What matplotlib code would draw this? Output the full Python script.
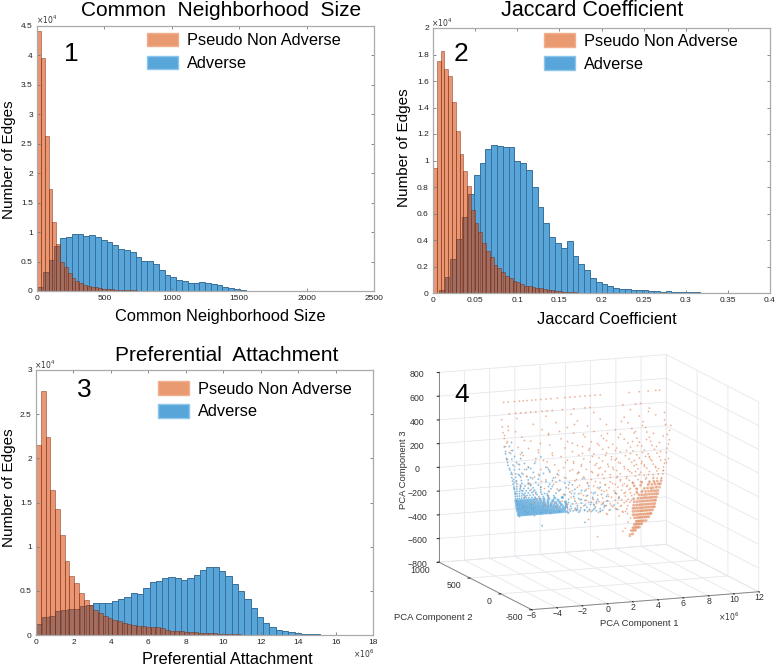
import matplotlib
matplotlib.use('Agg')
import matplotlib.pyplot as plt
from matplotlib.patches import Patch

plt.rcParams['font.family'] = ['Liberation Sans', 'DejaVu Sans']

# histogram counts, in units of 10^4 edges
cn_pseudo = [4.42, 3.95, 2.63, 1.73, 1.17, 0.80, 0.50, 0.40, 0.30, 0.22, 0.17, 0.13, 0.11, 0.09, 0.07, 0.06, 0.05,
             0.04, 0.035, 0.03, 0.025, 0.02, 0.018, 0.015, 0.012, 0.01, 0.008, 0.006, 0.005, 0.004]
cn_adverse = [0.07, 0.33, 0.53, 0.77, 0.90, 0.91, 0.96, 0.97, 0.94, 0.95, 0.91, 0.87, 0.84, 0.78, 0.72, 0.70, 0.67,
              0.58, 0.51, 0.51, 0.46, 0.36, 0.27, 0.23, 0.18, 0.17, 0.13, 0.14, 0.16, 0.14, 0.12, 0.11, 0.07, 0.05,
              0.03, 0.012, 0.008, 0.006, 0.005, 0.004, 0.003, 0.003, 0.002, 0.002, 0.002, 0.002, 0.002, 0.001, 0.0,
              0.006]
cn_pseudo_width = 28.5
cn_adverse_width = 43.0

jc_pseudo = [0.94, 1.75, 1.83, 1.69, 1.64, 1.44, 1.22, 1.05, 0.92, 0.81, 0.63, 0.53, 0.46, 0.38, 0.32, 0.27, 0.21,
             0.19, 0.16, 0.13, 0.11, 0.09, 0.08, 0.07, 0.055, 0.05, 0.045, 0.04, 0.035, 0.03, 0.025, 0.02, 0.015,
             0.012, 0.01, 0.008, 0.006, 0.004]
jc_adverse = [0.0, 0.02, 0.12, 0.26, 0.41, 0.57, 0.75, 0.89, 0.98, 1.09, 1.12, 1.11, 1.10, 1.10, 1.00, 0.98, 0.93,
              0.80, 0.65, 0.53, 0.42, 0.38, 0.34, 0.39, 0.28, 0.22, 0.17, 0.11, 0.08, 0.07, 0.05, 0.04, 0.03, 0.03,
              0.025, 0.02, 0.02, 0.015, 0.012, 0.01, 0.012, 0.008, 0.008, 0.005, 0.004, 0.004, 0.003, 0.002, 0.002,
              0.001, 0.001]
jc_pseudo_width = 0.0045
jc_adverse_width = 0.0069

pa_pseudo = [2.15, 2.76, 2.24, 1.64, 1.43, 1.13, 0.84, 0.67, 0.59, 0.47, 0.40, 0.34, 0.28, 0.25, 0.22, 0.19, 0.17,
             0.16, 0.14, 0.13, 0.11, 0.105, 0.10, 0.095, 0.09, 0.09, 0.08, 0.06, 0.05, 0.045, 0.04, 0.035, 0.03,
             0.03, 0.025, 0.025, 0.02, 0.02, 0.015, 0.012, 0.01, 0.008, 0.006, 0.004]
pa_adverse = [0.13, 0.20, 0.22, 0.27, 0.28, 0.29, 0.29, 0.33, 0.34, 0.36, 0.36, 0.36, 0.38, 0.41, 0.43, 0.48, 0.46,
              0.53, 0.60, 0.61, 0.65, 0.66, 0.64, 0.62, 0.64, 0.68, 0.74, 0.77, 0.775, 0.72, 0.67, 0.58, 0.50, 0.41,
              0.31, 0.20, 0.14, 0.09, 0.06, 0.04, 0.03, 0.02, 0.012, 0.01, 0.006, 0.005, 0.004, 0.003, 0.002, 0.002,
              0.001, 0.001]
pa_pseudo_width = 0.255
pa_adverse_width = 0.337

cn_xticks = [0, 500, 1000, 1500, 2000, 2500]
cn_yticks = [0, 0.5, 1, 1.5, 2, 2.5, 3, 3.5, 4, 4.5]
jc_xticks = [0, 0.05, 0.1, 0.15, 0.2, 0.25, 0.3, 0.35, 0.4]
jc_yticks = [0, 0.2, 0.4, 0.6, 0.8, 1, 1.2, 1.4, 1.6, 1.8, 2]
pa_xticks = [0, 2, 4, 6, 8, 10, 12, 14, 16, 18]
pa_yticks = [0, 0.5, 1, 1.5, 2, 2.5, 3]

# PCA scatter (component 3, component 1 values in 10^6)
pca2_level = 250
adverse_rows = [
    (-330, [-1.5, 1.9]),
    (-240, [0.6, 1.4, 2.1, 2.8, 3.3, 3.9, 4.4]),
    (-225, [-3.38, -3.22, -3.07, -2.92, -2.78, -2.63, -2.47, -2.33, -2.18, -2.02, -1.88, -1.71, -1.57, -1.42, -1.26,
            -1.12, -0.96, -0.81, -0.66, -0.51, -0.37, -0.21, -0.06, 0.11, 0.32, 0.51, 0.73, 0.97, 1.22, 1.53, 1.87,
            2.24, 2.6, 3.1]),
    (-205, [-3.4, -3.26, -3.1, -2.96, -2.81, -2.66, -2.52, -2.37, -2.21, -2.07, -1.92, -1.76, -1.6, -1.45, -1.3, -1.14,
            -0.98, -0.83, -0.67, -0.49, -0.31, -0.13, 0.06, 0.27, 0.52, 0.81, 1.13, 1.58, 2.05, 2.7, 3.5, 4.2]),
    (-185, [-3.46, -3.3, -3.16, -3.01, -2.86, -2.72, -2.56, -2.41, -2.27, -2.12, -1.95, -1.8, -1.64, -1.47, -1.31,
            -1.13, -0.96, -0.75, -0.57, -0.36, -0.12, 0.17, 0.42, 0.76, 1.3, 1.9, 2.6, 3.3]),
    (-165, [-3.5, -3.35, -3.2, -3.05, -2.9, -2.75, -2.6, -2.44, -2.29, -2.13, -1.96, -1.79, -1.61, -1.41, -1.22, -1.03,
            -0.82, -0.58, -0.31, 0.02, 0.4, 0.9, 1.6, 2.4, 3.7]),
    (-145, [-3.52, -3.38, -3.23, -3.08, -2.92, -2.77, -2.6, -2.45, -2.28, -2.1, -1.91, -1.73, -1.52, -1.3, -1.04,
            -0.77, -0.42, -0.1, 0.35, 1.1, 1.9, 2.9, 4.6]),
    (-125, [-3.54, -3.4, -3.26, -3.1, -2.94, -2.77, -2.6, -2.42, -2.24, -2.05, -1.83, -1.6, -1.35, -1.04, -0.66, -0.24,
            0.6, 1.4, 2.5, 3.6]),
    (-105, [-3.58, -3.44, -3.27, -3.12, -2.95, -2.76, -2.58, -2.38, -2.16, -1.93, -1.66, -1.36, -0.98, -0.5, 0.1, 1.0,
            2.1, 3.2, 4.3]),
    (-85, [-3.6, -3.45, -3.3, -3.13, -2.95, -2.75, -2.55, -2.31, -2.06, -1.76, -1.41, -1.02, -0.58, 0.3, 1.4, 2.7]),
    (-65, [-3.62, -3.47, -3.3, -3.11, -2.9, -2.7, -2.47, -2.21, -1.9, -1.52, -1.1, -0.4, 0.7, 1.9]),
    (-45, [-3.65, -3.5, -3.3, -3.1, -2.86, -2.6, -2.31, -2.0, -1.6, -1.0, -0.2, 1.1, 3.1]),
    (-25, [-3.67, -3.5, -3.28, -3.04, -2.76, -2.46, -2.1, -1.6, -0.8, 0.4, 2.2]),
    (-5, [-3.72, -3.5, -3.25, -2.95, -2.6, -2.2, -1.6, -0.7, 0.9]),
    (15, [-3.74, -3.5, -3.2, -2.85, -2.4, -1.8, -0.9, 0.3]),
    (40, [-3.8, -3.5, -3.1, -2.6, -2.0, -1.2, -0.1, 1.7]),
    (65, [-3.85, -3.55, -3.15, -2.6, -1.8, -0.6]),
    (95, [-3.9, -3.6, -3.2, -2.7, -1.7, -0.3, 1.4]),
    (125, [-3.95, -3.6, -3.1, -2.2, -0.9]),
    (160, [-4.05, -3.7, -3.3, -2.4, -1.2]),
    (200, [-4.2, -3.8, -3.3, -2.1]),
    (250, [-4.3, -3.9, -3.2, -1.6]),
    (300, [-4.4, -4.0, -3.1]),
    (360, [-4.5, -4.1]),
]
pseudo_rows = [
    (-475, [5.4, 5.5]),
    (-460, [2.9, 5.43, 5.55, 5.68]),
    (-430, [4.9, 5.5, 5.62, 5.77, 5.9]),
    (-407, [5.1, 5.7, 5.83, 5.96, 6.08, 6.2]),
    (-380, [5.8, 5.92, 6.03, 6.15, 6.28, 6.4]),
    (-355, [5.3, 5.95, 6.06, 6.18, 6.3, 6.42, 6.55, 6.74]),
    (-325, [5.5, 5.82, 6.0, 6.14, 6.28, 6.41, 6.55, 6.68, 6.82, 6.95]),
    (-299, [4.6, 5.7, 5.86, 6.03, 6.18, 6.33, 6.48, 6.62, 6.77, 6.91, 7.05, 7.13]),
    (-270, [3.6, 4.9, 5.7, 5.9, 6.08, 6.23, 6.37, 6.5, 6.66, 6.8, 6.96, 7.1, 7.25]),
    (-244, [2.4, 3.1, 3.8, 4.5, 5.2, 5.7, 5.85, 6.02, 6.2, 6.36, 6.51, 6.68, 6.83, 6.98, 7.14, 7.3, 7.4]),
    (-218, [1.1, 2.7, 3.4, 4.1, 4.7, 5.3, 5.75, 5.96, 6.14, 6.31, 6.47, 6.64, 6.8, 6.95, 7.11, 7.28, 7.43]),
    (-190, [0.5, 1.8, 2.6, 3.2, 3.9, 4.5, 5.0, 5.45, 5.8, 6.02, 6.22, 6.41, 6.58, 6.75, 6.91, 7.08, 7.24, 7.4, 7.5]),
    (-163, [-0.8, 1.2, 2.2, 3.0, 3.6, 4.3, 4.8, 5.3, 5.75, 6.1, 6.32, 6.5, 6.7, 6.87, 7.05, 7.21, 7.38, 7.55]),
    (-136, [-1.4, 0.1, 1.5, 2.5, 3.3, 4.0, 4.6, 5.1, 5.6, 6.2, 6.42, 6.62, 6.8, 7.0, 7.18, 7.35, 7.52, 7.66]),
    (-110, [0.8, 2.0, 2.9, 3.7, 4.4, 5.0, 5.5, 6.0, 6.4, 6.7, 6.93, 7.14, 7.33, 7.5, 7.68]),
    (-83, [-1.0, 0.3, 1.6, 2.4, 3.4, 4.2, 4.8, 5.4, 6.0, 6.6, 6.85, 7.1, 7.3, 7.55, 7.8]),
    (-55, [-2.0, 0.9, 2.0, 3.0, 3.8, 4.5, 5.2, 5.8, 6.3, 6.9, 7.2, 7.45, 7.7, 7.87]),
    (-30, [-0.3, 1.3, 2.6, 3.5, 4.3, 5.0, 5.7, 6.4, 7.0, 7.35, 7.62, 7.93]),
    (-5, [-1.6, 0.6, 2.1, 3.1, 3.9, 4.7, 5.4, 6.1, 6.7, 7.28, 7.6, 7.95]),
    (27, [-2.6, -0.4, 1.1, 2.4, 3.4, 4.4, 5.2, 5.9, 6.6, 7.3, 7.7, 8.06]),
    (55, [-1.2, 0.4, 1.8, 2.9, 3.9, 4.7, 5.6, 6.3, 7.0, 7.6, 8.1]),
    (85, [-2.1, -0.2, 1.3, 2.5, 3.5, 4.4, 5.3, 6.1, 6.8, 7.5, 8.12]),
    (115, [-3.0, -0.9, 0.7, 2.0, 3.0, 4.1, 5.0, 5.8, 6.6, 7.3, 8.2]),
    (145, [-1.6, 0.2, 1.6, 2.7, 3.7, 4.7, 5.6, 6.4, 7.2, 7.9, 8.25]),
    (175, [-2.6, -0.5, 1.0, 2.3, 3.3, 4.3, 5.4, 6.2, 7.0, 7.8]),
    (205, [-3.4, -1.1, 0.5, 1.8, 3.0, 4.0, 5.1, 6.0, 6.9, 7.6, 8.35]),
    (240, [-2.0, 0.0, 1.4, 2.6, 3.6, 4.7, 5.7, 6.6, 7.4, 8.4]),
    (275, [-3.0, -0.7, 0.9, 2.2, 3.3, 4.4, 5.5, 6.4, 7.2, 8.5]),
    (310, [-4.1, -1.8, 0.3, 1.7, 3.0, 4.1, 5.3, 6.2, 7.1, 8.58]),
    (345, [-3.4, -0.9, 0.9, 2.4, 3.6, 5.0, 6.0, 7.0, 8.1]),
    (390, [-4.3, -2.4, 0.0, 1.9, 3.2, 4.7, 5.8, 6.8, 8.6]),
    (430, [-4.5, -3.1, -1.0, 1.0, 2.6, 4.3, 5.6, 6.7, 8.7]),
    (480, [-4.6, -3.6, -1.5, 0.5, 2.1, 3.6, 5.3, 6.5, 8.2]),
    (530, [-4.65, -4.2, -2.2, -0.4, 1.3, 3.1, 5.0, 6.2, 7.5]),
    (590, [-4.7, -3.5, -1.2, 0.8, 2.6, 5.5, 7.0]),
    (635, [-4.1, -3.6, -3.2, -2.8, -2.4, -2.0, -1.5, -1.1, -0.7, 0.1, 1.0, 1.9, 2.3, 4.9, 5.9, 6.3]),
    (735, [-4.55, -4.2, -3.7, -3.3, -3.0, -2.7, -2.3, -2.0, -1.6, -1.2, -0.8, -0.3, 0.3, 0.7, 1.1, 1.5, 1.9, 2.3, 2.7,
           3.1, 5.4, 6.2, 6.9, 7.5, 7.8]),
]
# scattered points between the rows
adverse_pca1 = [-3.3, -2.7, -2.15, -1.55, -0.9, -0.2, 0.45, 1.15, 1.8, 2.45, 3.05, -3.45, -2.85, -2.2, -1.3, -0.5,
                0.35, 1.25, 2.3, 3.4, -3.5, -3.0, -2.35, -1.45, -0.6, 0.55, 1.6, 2.75, -3.6, -2.95, -2.05, -1.15,
                0.05, 1.05, 2.5, -3.65, -3.05, -2.25, -1.35, -0.05, 1.55, -3.7, -3.15, -2.45, -1.05, 0.65, -3.75,
                -3.25, -2.3, -0.75, -3.8, -3.35, -2.5, -1.4, -3.95, -3.45, -2.65, -1.0, -4.1, -3.55, -2.8, -4.25,
                -3.75, -2.9, -4.35, -3.85, -4.45, -3.95]
adverse_pca3 = [-232, -216, -238, -213, -229, -218, -233, -214, -226, -231, -243, -172, -193, -176, -198, -174, -191,
                -213, -179, -197, -133, -152, -138, -156, -131, -149, -133, -158, -92, -74, -96, -71, -97, -73, -91,
                -33, -53, -35, -57, -34, -52, 8, -13, 27, 5, 22, 54, 32, 79, 48, 83, 110, 88, 112, 141, 118, 178,
                146, 182, 224, 163, 229, 276, 207, 262, 332, 321, 392]
pseudo_pca1 = [2.15, 3.65, 4.85, 5.25, 1.45, 2.95, 4.25, 5.05, 0.65, 2.25, 3.55, 4.75, 5.55, -0.35, 1.25, 2.75, 3.95,
               5.15, -1.25, 0.45, 1.95, 3.35, 4.55, 5.75, 6.55, -2.15, -0.55, 1.05, 2.55, 3.75, 5.05, 6.05, 7.15,
               -1.75, 0.15, 1.75, 3.15, 4.25, 5.45, 6.45, 7.55, -2.85, -0.95, 0.75, 2.15, 3.55, 4.85, 5.95, 6.95,
               7.75, -2.35, -0.15, 1.45, 2.85, 4.05, 5.25, 6.25, 7.35, -3.25, -1.35, 0.55, 2.05, 3.45, 4.65, 5.65,
               6.75, 7.95, -2.55, -0.65, 1.15, 2.65, 3.85, 5.15, 6.15, 7.25, -3.55, -1.55, 0.25, 1.85, 3.25, 4.45,
               5.85, 6.85, 8.05, -2.75, -0.45, 1.35, 2.95, 4.15, 5.35, 6.55, 7.65, -3.85, -1.85, 0.85, 2.35, 3.75,
               4.95, 6.35, 7.45, 8.3, -2.95, -0.25, 1.55, 3.05, 4.55, 5.95, 7.05, -3.75, -1.15, 0.95, 2.75, 4.35,
               5.75, 6.95, 8.45, -2.05, 0.35, 2.45, 3.95, 5.45, 6.65, 7.85, -4.25, -1.45, 1.65, 3.45, 5.15, 6.45,
               -3.25, -0.75, 2.25, 4.25, 6.05, 7.55, -3.95, -1.85, 1.25, 3.75, 5.65, 7.75, -4.45, -2.65, 0.45, 2.85,
               4.55, 6.75, 8.4, -4.3, -1.65, 1.75, 3.35, 5.85, 7.25, -4.5, -2.95, -0.15, 3.65, 6.45, 8.25,
               -4.2, -1.0, 1.05, 4.75, 6.85, 8.15]
pseudo_pca3 = [-303, -276, -258, -282, -232, -251, -229, -257, -204, -226, -198, -207, -176, -178, -199, -172, -197,
               -174, -149, -166, -143, -171, -148, -126, -149, -123, -146, -119, -141, -127, -97, -118, -96, -91, -73,
               -99, -71, -96, -68, -93, -71, -66, -41, -69, -44, -68, -42, -71, -38, -47, -16, -43, -13, -39, -17,
               -42, -14, -37, 12, -11, -27, 7, -19, 12, -23, 9, -9, 38, 16, 41, 11, 39, 13, 42, 8, 68, 44, 70, 41, 66,
               43, 69, 39, 62, 98, 72, 100, 68, 97, 71, 103, 76, 128, 106, 127, 98, 129, 101, 132, 99, 125, 158, 132,
               161, 129, 157, 131, 163, 188, 161, 192, 159, 188, 163, 186, 155, 221, 195, 224, 190, 226, 193, 219,
               257, 224, 258, 221, 254, 228, 293, 261, 294, 258, 290, 263, 326, 293, 328, 292, 324, 297, 366, 331,
               368, 329, 367, 333, 364, 411, 372, 412, 369, 409, 376, 458, 408, 460, 405, 456, 447, 503, 449, 507,
               502, 563, 547]
pca1_ticks = [-6, -4, -2, 0, 2, 4, 6, 8, 10, 12]
pca2_ticks = [-500, 0, 500, 1000]
pca3_ticks = [-800, -600, -400, -200, 0, 200, 400, 600, 800]

W, H = 778, 669
ORANGE = (0.86, 0.25, 0.0, 0.55)
ORANGE_EDGE = (0.45, 0.16, 0.06, 0.55)
BLUE = '#58a5d9'
BLUE_EDGE = '#3a7099'


def ax_at(left, top, right, bottom, **kw):
    return fig.add_axes([left / W, 1 - bottom / H, (right - left) / W, (bottom - top) / H], **kw)


def label(x, y, s, **kw):
    fig.text(x / W, 1 - y / H, s, ha='center', va='center', **kw)


def hist_panel(box, pseudo, adverse, pseudo_w, adverse_w, xticks, yticks, xlim, ylim, legend_xy):
    ax = ax_at(*box)
    ax.bar([i * adverse_w for i in range(len(adverse))], adverse, adverse_w, align='edge',
           color=BLUE, edgecolor=BLUE_EDGE, linewidth=0.7)
    ax.bar([i * pseudo_w for i in range(len(pseudo))], pseudo, pseudo_w, align='edge',
           color=ORANGE, edgecolor=ORANGE_EDGE, linewidth=0.6)
    ax.set_xlim(xlim)
    ax.set_ylim(ylim)
    ax.set_xticks(xticks, [f'{t:g}' for t in xticks])
    ax.set_yticks(yticks, [f'{t:g}' for t in yticks])
    ax.tick_params(direction='in', top=True, right=True, length=2.5, width=0.6, labelsize=6,
                   labelcolor='#222222', color='#777777', pad=3)
    for s in ax.spines.values():
        s.set_color('#aaaaaa')
        s.set_linewidth(0.9)
    handles = [Patch(facecolor='#e99a70', edgecolor='#f0b090', label='Pseudo Non Adverse'),
               Patch(facecolor=BLUE, edgecolor='#8cc6ea', label='Adverse')]
    ax.legend(handles=handles, loc='upper left', bbox_to_anchor=legend_xy, frameon=False, fontsize=11.8,
              handlelength=1.9, handleheight=0.9, handletextpad=0.55, labelspacing=0.45, borderaxespad=0, borderpad=0)
    return ax


fig = plt.figure(figsize=(W / 100, H / 100), dpi=100)

hist_panel((37, 26, 374, 291), cn_pseudo, cn_adverse, cn_pseudo_width, cn_adverse_width, cn_xticks, cn_yticks,
           (0, 2500), (0, 4.5), (0.326, 0.974))
hist_panel((433, 28, 770, 293), jc_pseudo, jc_adverse, jc_pseudo_width, jc_adverse_width, jc_xticks, jc_yticks,
           (0, 0.4), (0, 2), (0.329, 0.98))
hist_panel((36, 370, 373, 635), pa_pseudo, pa_adverse, pa_pseudo_width, pa_adverse_width, pa_xticks, pa_yticks,
           (0, 18), (0, 3), (0.362, 0.958))

label(221, 11, 'Common  Neighborhood  Size', fontsize=15)
label(592, 11, 'Jaccard Coefficient', fontsize=15.5)
label(227, 355, 'Preferential  Attachment', fontsize=15)
label(220, 316, 'Common Neighborhood Size', fontsize=11.8)
label(607, 319, 'Jaccard Coefficient', fontsize=11.8)
label(227, 659, 'Preferential Attachment', fontsize=11.8)
label(9, 160, 'Number of Edges', fontsize=11, rotation=90)
label(404, 148, 'Number of Edges', fontsize=11, rotation=90)
label(9, 488, 'Number of Edges', fontsize=11, rotation=90)
label(71, 54, '1', fontsize=19)
label(461, 54, '2', fontsize=19)
label(84, 390, '3', fontsize=19)
label(462, 395, '4', fontsize=19)
label(47, 20, r'$\times10^{4}$', fontsize=5.5, color='#333333')
label(442, 23, r'$\times10^{4}$', fontsize=5.5, color='#333333')
label(45, 365, r'$\times10^{4}$', fontsize=5.5, color='#333333')
label(364, 654, r'$\times10^{6}$', fontsize=5.5, color='#333333')

# 3d scatter panel
ax3 = ax_at(405, 341, 785, 631, projection='3d', proj_type='ortho')
ax3.view_init(elev=11.6, azim=-111.4)
ax3.set_box_aspect((238, 247, 189), zoom=1.344)
for z, xs in adverse_rows:
    # the wedge at the bottom left is solid blue in the picture
    ax3.scatter(xs, [pca2_level] * len(xs), [z] * len(xs),
                s=[5 if -300 < z < -100 and x < 0.5 else 1.8 for x in xs],
                c='#58a5d9', alpha=0.7, linewidths=0, depthshade=False)
ax3.scatter(adverse_pca1, [pca2_level] * len(adverse_pca1), adverse_pca3, s=1.8, c='#58a5d9', alpha=0.7,
            linewidths=0, depthshade=False)
for z, xs in pseudo_rows:
    ax3.scatter(xs, [pca2_level] * len(xs), [z] * len(xs), s=[4.2 if z < -20 and x > 5.6 else 1.6 for x in xs],
                c='#e28a5f', alpha=0.65, linewidths=0, depthshade=False)
ax3.scatter(pseudo_pca1, [pca2_level] * len(pseudo_pca1), pseudo_pca3, s=1.6, c='#e28a5f', alpha=0.65,
            linewidths=0, depthshade=False)
ax3.set_xlim(-6, 12)
ax3.set_ylim(-500, 1000)
ax3.set_zlim(-800, 800)
ax3.set_xticks(pca1_ticks)
ax3.set_yticks(pca2_ticks, ['' for t in pca2_ticks])
ax3.set_zticks(pca3_ticks)
ax3.tick_params(labelsize=6.3, colors='#333333')
ax3.tick_params(axis='x', pad=-7.5)
ax3.tick_params(axis='z', pad=-0.5)
# component 2 labels sit left of the edge, further than the axis pad puts them
for t in pca2_ticks:
    ax3.text(-6.7, t, -860, f'{t}', fontsize=6.3, color='#333333', ha='right', va='center')
for a in (ax3.xaxis, ax3.yaxis, ax3.zaxis):
    a.set_pane_color((1, 1, 1, 0))
    a.pane.set_edgecolor('#dddddd')
    a.line.set_color('#888888')
    a.line.set_linewidth(0.7)
    a._axinfo['grid']['color'] = '#e6e6ec'
    a._axinfo['grid']['linewidth'] = 0.6
    a._axinfo['tick']['inward_factor'] = 0.1
    a._axinfo['tick']['outward_factor'] = 0.0
label(639, 623, 'PCA Component 1', fontsize=6.8, color='#333333')
label(433, 617, 'PCA Component 2', fontsize=6.8, color='#333333')
label(404, 470, 'PCA Component 3', fontsize=6.8, color='#333333', rotation=90)
label(729, 617, r'$\times10^{6}$', fontsize=5.5, color='#333333')

fig.savefig('out.png', dpi=100)
